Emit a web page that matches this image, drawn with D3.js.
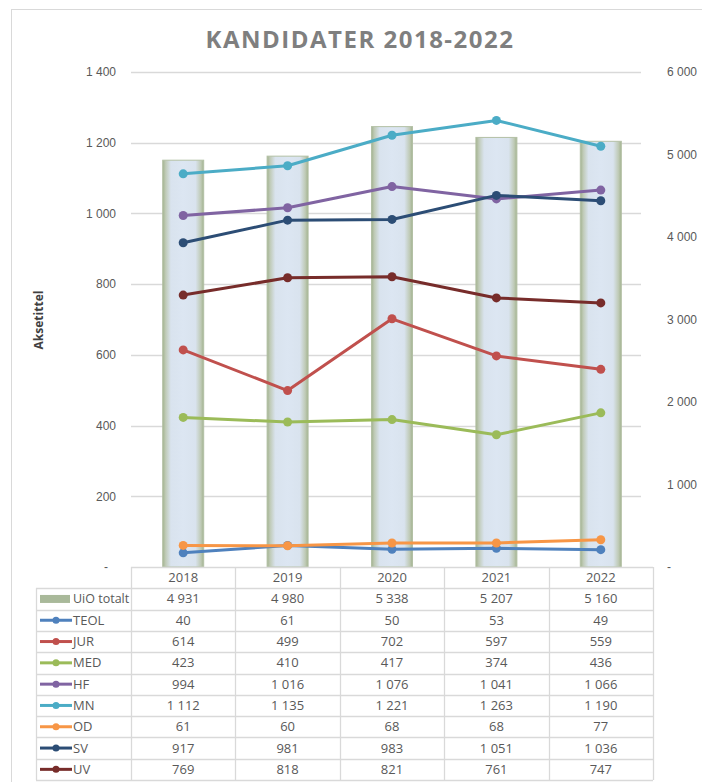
<!DOCTYPE html>
<html>
<head>
<meta charset="utf-8">
<script src="https://cdn.jsdelivr.net/npm/d3@7"></script>
<style>
body{margin:0;background:#fff;}
svg{font-family:"Open Sans",sans-serif;}
</style>
</head>
<body>
<svg id="chart" width="702" height="782"></svg>
<script>
var years=["2018","2019","2020","2021","2022"];
var uioTotalt=[4931,4980,5338,5207,5160];
var teol=[40,61,50,53,49];
var jur=[614,499,702,597,559];
var med=[423,410,417,374,436];
var hf=[994,1016,1076,1041,1066];
var mn=[1112,1135,1221,1263,1190];
var od=[61,60,68,68,77];
var sv=[917,981,983,1051,1036];
var uv=[769,818,821,761,747];
var leftTicks=[0,200,400,600,800,1000,1200,1400];
var rightTicks=[0,1000,2000,3000,4000,5000,6000];

var series=[
    {name:"TEOL",values:teol,color:"#4f81bd"},
    {name:"JUR",values:jur,color:"#c0504d"},
    {name:"MED",values:med,color:"#9bbb59"},
    {name:"HF",values:hf,color:"#8064a2"},
    {name:"MN",values:mn,color:"#4bacc6"},
    {name:"OD",values:od,color:"#f79646"},
    {name:"SV",values:sv,color:"#2c4d75"},
    {name:"UV",values:uv,color:"#772c2a"}
];

var loc=d3.formatLocale({decimal:",",thousands:"\u00a0",grouping:[3],currency:["",""]});
var fmt=loc.format(",d");

var svg=d3.select("#chart");
var pLeft=131,pRight=653,pTop=72,pBottom=567;
var txt="#595959",grid="#d9d9d9";

// frame
svg.append("rect").attr("x",11.5).attr("y",9.5).attr("width",720).attr("height",800)
    .attr("fill","none").attr("stroke",grid);

svg.append("text").attr("x",360).attr("y",48).attr("text-anchor","middle")
    .attr("font-size",24).attr("font-weight","bold").attr("fill","#7f7f7f")
    .attr("letter-spacing",1.5).text("KANDIDATER 2018-2022");

var x=d3.scaleBand().domain(years).range([pLeft,pRight]);
var y=d3.scaleLinear().domain([0,1400]).range([pBottom,pTop]);
var y2=d3.scaleLinear().domain([0,6000]).range([pBottom,pTop]);

// gridlines
svg.append("g").selectAll("line").data(leftTicks.slice(1)).enter().append("line")
    .attr("x1",pLeft).attr("x2",pRight-12)
    .attr("y1",function(d){return Math.round(y(d))+0.5;})
    .attr("y2",function(d){return Math.round(y(d))+0.5;})
    .attr("stroke",grid).attr("stroke-width",1.3);

// left axis
var ga=svg.append("g").attr("transform","translate(116,0)")
    .call(d3.axisLeft(y).tickValues(leftTicks).tickSize(0).tickPadding(0)
    .tickFormat(function(d){return d==0?"-":fmt(d);}));
ga.select(".domain").remove();
ga.selectAll("text").attr("fill",txt).attr("font-size",12)
    .attr("dx",function(d){return d==0?-8:0;});

// right axis
var gb=svg.append("g").attr("transform","translate(667,0)")
    .call(d3.axisRight(y2).tickValues(rightTicks).tickSize(0).tickPadding(0)
    .tickFormat(function(d){return d==0?"-":fmt(d);}));
gb.select(".domain").remove();
gb.selectAll("text").attr("fill",txt).attr("font-size",12);

svg.append("text").attr("transform","translate(43,320) rotate(-90)")
    .attr("text-anchor","middle").attr("font-size",12).attr("font-weight","bold")
    .attr("fill","#404040").text("Aksetittel");

// bar gradient
var grad=svg.append("defs").append("linearGradient").attr("id","barg")
    .attr("x1","0%").attr("x2","100%").attr("y1","0%").attr("y2","0%");
[[0,"#a2b28f"],[0.07,"#bfcab6"],[0.2,"#d9e3ee"],[0.5,"#dce6f2"],[0.8,"#d9e3ee"],[0.93,"#bfcab6"],[1,"#a2b28f"]]
    .forEach(function(s){grad.append("stop").attr("offset",s[0]).attr("stop-color",s[1]);});

var bw=41;
svg.append("g").selectAll("rect").data(uioTotalt).enter().append("rect")
    .attr("x",function(d,i){return x(years[i])+x.bandwidth()/2-bw/2;})
    .attr("y",function(d){return y2(d);})
    .attr("width",bw)
    .attr("height",function(d){return pBottom-y2(d);})
    .attr("fill","url(#barg)").attr("stroke","#b3c0a5").attr("stroke-width",1);

// lines
var line=d3.line()
    .x(function(d,i){return x(years[i])+x.bandwidth()/2;})
    .y(function(d){return y(d);});
var gl=svg.append("g");
series.forEach(function(s){
    gl.append("path").datum(s.values).attr("d",line).attr("fill","none")
        .attr("stroke",s.color).attr("stroke-width",3).attr("stroke-linejoin","round");
    gl.selectAll(".p"+s.name).data(s.values).enter().append("circle")
        .attr("cx",function(d,i){return x(years[i])+x.bandwidth()/2;})
        .attr("cy",function(d){return y(d);})
        .attr("r",4.5).attr("fill",s.color);
});

// data table
var rowH=21.3,tLeft=36;
var rows=[{name:"UiO totalt",values:uioTotalt,bar:true}].concat(series);
var gt=svg.append("g");
var nRows=rows.length+1;
for(var r=0;r<=nRows;r+=1){
    var yy=Math.round(pBottom+r*rowH)+0.5;
    gt.append("line").attr("x1",r==0?pLeft:tLeft).attr("x2",pRight)
        .attr("y1",yy).attr("y2",yy).attr("stroke",grid).attr("stroke-width",1.3);
}
var colX=[tLeft,pLeft].concat(years.map(function(d){return x(d)+x.bandwidth();}));
colX.forEach(function(cx,i){
    var xx=Math.round(cx)+0.5;
    gt.append("line").attr("x1",xx).attr("x2",xx)
        .attr("y1",i==0?pBottom+rowH:pBottom).attr("y2",pBottom+nRows*rowH)
        .attr("stroke",grid).attr("stroke-width",1.3);
});
gt.selectAll(".yr").data(years).enter().append("text")
    .attr("x",function(d){return x(d)+x.bandwidth()/2;})
    .attr("y",pBottom+rowH/2+4.5).attr("text-anchor","middle")
    .attr("font-size",13).attr("fill",txt).text(function(d){return d;});
rows.forEach(function(s,r){
    var cy=pBottom+(r+1)*rowH+rowH/2;
    if(s.bar){
        gt.append("rect").attr("x",40).attr("y",cy-4).attr("width",30).attr("height",8)
            .attr("fill","#a9b99a");
    }else{
        gt.append("line").attr("x1",40).attr("x2",72).attr("y1",cy).attr("y2",cy)
            .attr("stroke",s.color).attr("stroke-width",3);
        gt.append("circle").attr("cx",56).attr("cy",cy).attr("r",3.5).attr("fill",s.color);
    }
    gt.append("text").attr("x",73).attr("y",cy+4.5).attr("font-size",s.bar?12.5:13)
        .attr("fill",txt).text(s.name);
    gt.selectAll(".v"+r).data(s.values).enter().append("text")
        .attr("x",function(d,i){return x(years[i])+x.bandwidth()/2;})
        .attr("y",cy+4.5).attr("text-anchor","middle").attr("font-size",13)
        .attr("fill",txt).text(function(d){return fmt(d);});
});
</script>
</body>
</html>
